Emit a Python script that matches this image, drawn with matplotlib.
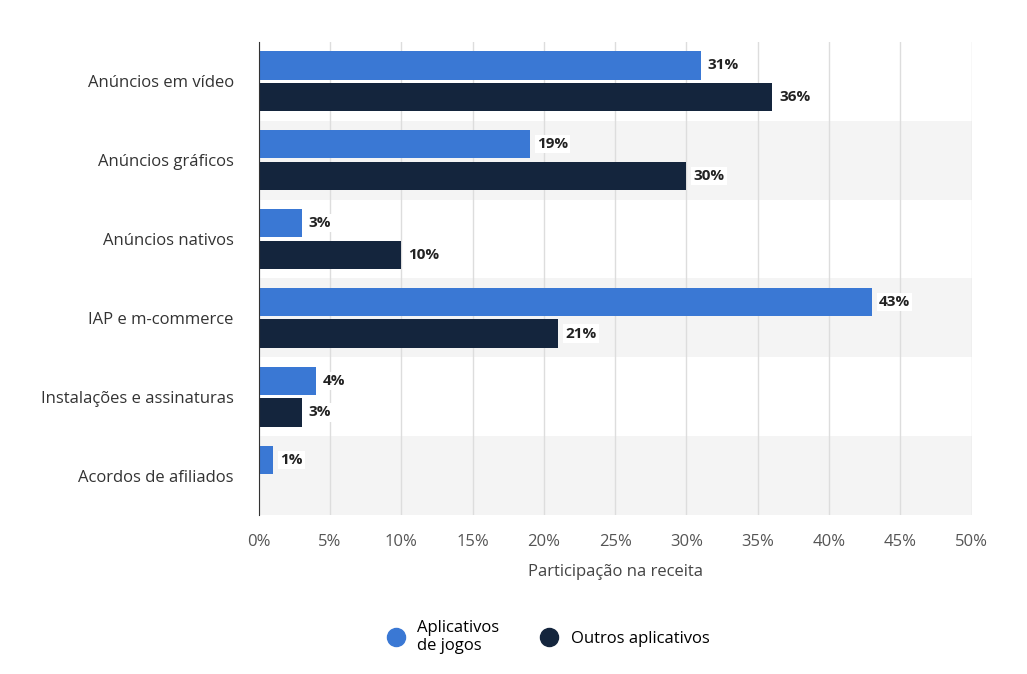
import numpy as np
import matplotlib
matplotlib.use('Agg')
import matplotlib.pyplot as plt
from matplotlib.lines import Line2D

categorias = ['Anúncios em vídeo', 'Anúncios gráficos', 'Anúncios nativos',
              'IAP e m-commerce', 'Instalações e assinaturas', 'Acordos de afiliados']
jogos = [31, 19, 3, 43, 4, 1]
outros = [36, 30, 10, 21, 3, 0]

azul = '#3a78d4'
escuro = '#14253d'

plt.rcParams['font.family'] = ['Open Sans', 'DejaVu Sans']
fig = plt.figure(figsize=(10.27, 6.74), dpi=100)
ax = fig.add_axes([0.252, 0.236, 0.694, 0.702])

y = np.arange(len(categorias))
h = 0.36
for i in range(len(categorias)):
    if i % 2 == 1:
        ax.axhspan(i - 0.5, i + 0.5, color='#f4f4f4', zorder=0, lw=0)
ax.barh(y - h / 2 - 0.02, jogos, h, color=azul, zorder=3)
ax.barh(y + h / 2 + 0.02, [v if v > 0 else np.nan for v in outros], h, color=escuro, zorder=3)

for i in range(len(categorias)):
    ax.text(jogos[i] + 0.5, y[i] - h / 2 - 0.02, '%d%%' % jogos[i], va='center', ha='left',
            fontsize=11, fontweight='bold', color='#222222', zorder=4,
            bbox=dict(facecolor='white', edgecolor='none', pad=1.5))
    if outros[i] > 0:
        ax.text(outros[i] + 0.5, y[i] + h / 2 + 0.02, '%d%%' % outros[i], va='center', ha='left',
                fontsize=11, fontweight='bold', color='#222222', zorder=4,
                bbox=dict(facecolor='white', edgecolor='none', pad=1.5))

ax.set_xlim(0, 50)
ax.set_ylim(len(categorias) - 0.5, -0.5)
ax.set_xticks(np.arange(0, 51, 5))
ax.set_xticklabels(['%d%%' % v for v in range(0, 51, 5)], fontsize=12, color='#555555')
ax.set_yticks(y)
ax.set_yticklabels(categorias, fontsize=12, color='#333333')
ax.tick_params(length=0, pad=14)
ax.tick_params(axis='y', pad=18)
ax.grid(axis='x', color='#dddddd', lw=1, zorder=1)
for s in ['top', 'right', 'bottom']:
    ax.spines[s].set_visible(False)
ax.spines['left'].set_color('#333333')
ax.spines['left'].set_zorder(5)
ax.set_xlabel('Participação na receita', fontsize=12, color='#444444', labelpad=10)

handles = [Line2D([], [], marker='o', ls='', color=azul, markersize=13),
           Line2D([], [], marker='o', ls='', color=escuro, markersize=13)]
fig.legend(handles, ['Aplicativos\nde jogos', 'Outros aplicativos'], loc='center',
           bbox_to_anchor=(0.53, 0.055), ncol=2, frameon=False, fontsize=12,
           handletextpad=0.3, columnspacing=2.0)

fig.savefig('out.png', dpi=100)
